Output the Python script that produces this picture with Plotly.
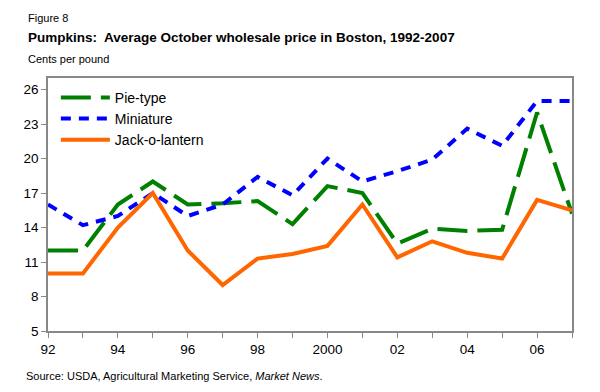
import plotly.graph_objects as go

years = list(range(1992, 2008))
pie_type = [12, 12, 16, 18, 16, 16.1, 16.3, 14.3, 17.6, 17.0, 12.6, 13.9, 13.7, 13.8, 24, 15.2]
miniature = [16, 14.2, 15.0, 17, 15, 16, 18.4, 16.8, 20, 18.0, 18.9, 19.9, 22.6, 21.1, 25, 25]
jack_o_lantern = [10, 10, 14, 17, 12, 9, 11.3, 11.7, 12.4, 16, 11.4, 12.8, 11.8, 11.3, 16.4, 15.5]

tick_vals = [1992, 1994, 1996, 1998, 2000, 2002, 2004, 2006]
tick_text = ["92", "94", "96", "98", "2000", "02", "04", "06"]
y_ticks = [5, 8, 11, 14, 17, 20, 23, 26]

FONT = "Arial"

fig = go.Figure()
fig.add_trace(go.Scatter(x=years, y=pie_type, mode="lines", name="Pie-type",
                         line=dict(color="#008000", width=4, dash="30px,10px")))
fig.add_trace(go.Scatter(x=years, y=miniature, mode="lines", name="Miniature",
                         line=dict(color="#0000ff", width=4, dash="10px,8px")))
fig.add_trace(go.Scatter(x=years, y=jack_o_lantern, mode="lines", name="Jack-o-lantern",
                         line=dict(color="#ff6600", width=4)))

fig.update_layout(
    width=600, height=392,
    margin=dict(l=40, r=36, t=70, b=69),
    paper_bgcolor="white", plot_bgcolor="white",
    font=dict(family=FONT, color="black", size=13.5),
    showlegend=True,
    legend=dict(x=0.015, y=0.985, xanchor="left", yanchor="top",
                bgcolor="rgba(0,0,0,0)", font=dict(size=14),
                tracegroupgap=0, itemwidth=49),
    xaxis=dict(range=[1992, 2007], tickmode="array", tickvals=tick_vals, ticktext=tick_text,
               showgrid=False, zeroline=False, showline=True, linecolor="#888888", linewidth=1.5,
               mirror=True, ticks="outside", ticklen=5, tickcolor="#888888",
               minor=dict(tickvals=years, ticks="outside", ticklen=5, tickcolor="#888888"),
               tickfont=dict(size=13.5)),
    yaxis=dict(range=[5, 27], tickmode="array", tickvals=y_ticks,
               showgrid=False, zeroline=False, showline=True, linecolor="#888888", linewidth=1.5,
               mirror=True, ticks="outside", ticklen=5, tickcolor="#888888",
               tickfont=dict(size=13.5)),
)

def px_x(xp):
    return (xp - 40) / 524

def px_y(yp):
    return (331 - yp) / 253

annots = [
    ("Figure 8", 18, 18, 11),
    ("<b>Pumpkins:  Average October wholesale price in Boston, 1992-2007</b>", 18, 37, 13.5),
    ("Cents per pound", 18, 59, 11),
    ("Source: USDA, Agricultural Marketing Service, <i>Market News</i>.", 16, 376, 11),
]
for text, xp, yp, size in annots:
    fig.add_annotation(text=text, xref="paper", yref="paper", x=px_x(xp), y=px_y(yp),
                       xanchor="left", yanchor="middle", showarrow=False,
                       font=dict(size=size, family=FONT, color="black"))

fig.write_html("out.html")
